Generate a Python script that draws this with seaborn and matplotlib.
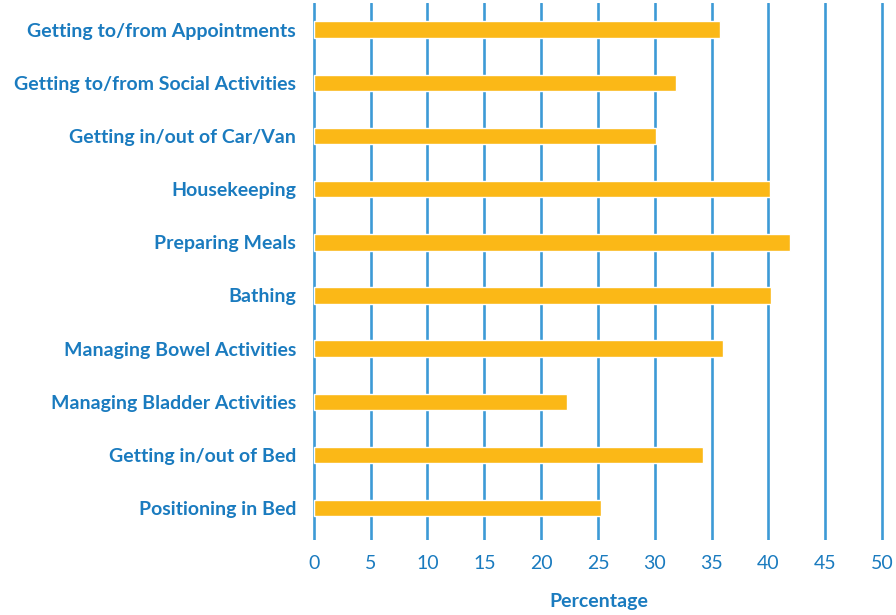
import pandas as pd
import seaborn as sns
import matplotlib.pyplot as plt

activities = ['Getting to/from Appointments', 'Getting to/from Social Activities',
              'Getting in/out of Car/Van', 'Housekeeping', 'Preparing Meals',
              'Bathing', 'Managing Bowel Activities', 'Managing Bladder Activities',
              'Getting in/out of Bed', 'Positioning in Bed']
percentages = [35.7, 31.9, 30.1, 40.1, 41.9, 40.2, 36.0, 22.3, 34.2, 25.3]
x_ticks = [0, 5, 10, 15, 20, 25, 30, 35, 40, 45, 50]

df = pd.DataFrame({'Activity': activities, 'Percentage': percentages})

blue = '#1a7bbf'
grid_blue = '#3d9ad6'
bar_color = '#fbb817'

sns.set_theme(style='white')
plt.rcParams['font.family'] = ['Lato', 'DejaVu Sans']

fig = plt.figure(figsize=(8.96, 6.15), dpi=100)
ax = fig.add_axes([0.349, 0.122, 0.638, 0.873])

for t in x_ticks:
    ax.axvline(t, color=grid_blue, lw=1.9, zorder=0)

sns.barplot(data=df, x='Percentage', y='Activity', color=bar_color,
            width=0.31, saturation=1, ax=ax, zorder=2)

ax.set_xlim(-0.1, 50.2)
ax.set_ylim(9.6, -0.5)
ax.set_xticks(x_ticks)
ax.set_xticklabels([str(t) for t in x_ticks], color=blue, fontsize=14)
ax.set_yticks(range(len(activities)))
ax.set_yticklabels(activities, color=blue, fontsize=14, fontweight='bold')
ax.tick_params(axis='both', length=0)
ax.tick_params(axis='x', pad=11)
ax.tick_params(axis='y', pad=12)
ax.set_ylabel('')
ax.set_xlabel('Percentage', color=blue, fontsize=14, fontweight='bold', labelpad=15)
sns.despine(ax=ax, left=True, bottom=True)

fig.savefig('out.png', dpi=100)
